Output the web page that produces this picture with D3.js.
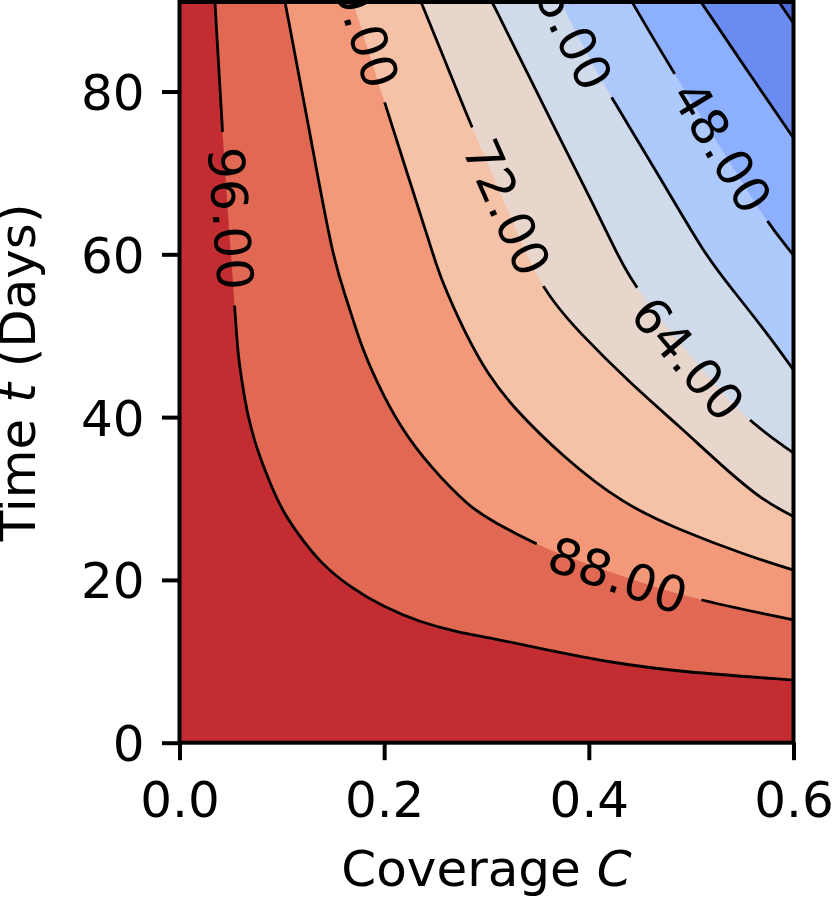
<!DOCTYPE html>
<html>
<head>
<meta charset="utf-8">
<script src="https://cdn.jsdelivr.net/npm/d3@7"></script>
<style>
  body { margin: 0; background: #ffffff; }
  svg { display: block; }
  text { font-family: "DejaVu Sans", sans-serif; }
</style>
</head>
<body>
<svg id="chart" width="832" height="898"></svg>
<script>
// ---------------- data ----------------
const levels = [32, 40, 48, 56, 64, 72, 80, 88, 96];

// contour lines as [Coverage C, Time t] points, from the top edge to the right edge
const line32 = [[0.5858, 91], [0.6, 88.4]];
const line40 = [[0.5096, 91], [0.5546, 82.6], [0.6, 74.3]];
const line48 = [[0.4422, 91], [0.4823, 82.4], [0.5282, 73.3], [0.5722, 64.2], [0.6, 59.9]];
const line56 = [[0.3728, 91], [0.3953, 85.3], [0.4207, 79.5], [0.4695, 69.5], [0.5135, 59.9],
                [0.5409, 55.6], [0.5741, 50.3], [0.6, 45.8]];
const line64 = [[0.3054, 91], [0.3376, 82.9], [0.3689, 74.9], [0.4011, 67.0], [0.4305, 59.3],
                [0.4471, 55.6], [0.4989, 47.6], [0.5507, 39.9], [0.6, 35.6]];
const line72 = [[0.2360, 91], [0.2614, 83.2], [0.2858, 75.5], [0.3200, 65.8], [0.3523, 55.8],
                [0.3914, 50.3], [0.4402, 44.2], [0.4891, 38.8], [0.5301, 34.0], [0.5692, 29.8], [0.6, 27.8]];
const line80 = [[0.1696, 91], [0.1998, 78.9], [0.2252, 68.9], [0.2467, 60.5], [0.2546, 57.2],
                [0.2790, 50.3], [0.3015, 45.2], [0.3259, 41.2], [0.3748, 35.1], [0.4324, 29.4],
                [0.4891, 26.1], [0.5546, 23.0], [0.6, 21.2]];
const line88 = [[0.1031, 91], [0.1275, 74.9], [0.1500, 59.3], [0.1637, 54.4], [0.1764, 49.1],
                [0.1930, 44.2], [0.2155, 38.8], [0.2448, 33.9], [0.2839, 28.9], [0.3034, 27.4],
                [0.3572, 23.7], [0.4295, 20.6], [0.5018, 17.6], [0.6, 15.1]];
const line96 = [[0.0347, 91], [0.0415, 75.2], [0.0542, 53.2], [0.0567, 48.2], [0.0611, 44.2],
                [0.0669, 40.0], [0.0757, 36.0], [0.0884, 31.9], [0.1001, 28.6], [0.1148, 25.8],
                [0.1373, 22.1], [0.1666, 19.1], [0.1989, 16.7], [0.2350, 14.8], [0.2712, 13.6],
                [0.3034, 12.9], [0.3591, 11.4], [0.4236, 9.8], [0.4891, 8.7], [0.6, 7.7]];
const contourLines = [line32, line40, line48, line56, line64, line72, line80, line88, line96];

// inline contour labels: level and where its label sits [C, t]
const labelLevels = [96, 88, 80, 72, 64, 56, 48];
const labelPoints = [[0.0503, 64.4], [0.4285, 20.6], [0.1783, 89.0], [0.3200, 65.8],
                     [0.4970, 47.2], [0.3787, 88.5], [0.5301, 73.2]];

// band colours (coolwarm), from lowest band (<32) to highest (>96)
const bandColors = ['#4f69d9', '#6a8bef', '#8db0fe', '#aec9fc', '#cfdaea',
                    '#e8d6cc', '#f5c1a7', '#f39879', '#e16852', '#c32d31'];

const xTicks = [0, 0.2, 0.4, 0.6];
const yTicks = [0, 20, 40, 60, 80];
const xDomain = [0, 0.6];
const yDomain = [0, 91];
const xLabelText = ["Coverage ", "C"];
const yLabelText = ["Time ", "t", " (Days)"];

// ---------------- layout ----------------
const L = 179.5, R = 793.5, T = 2, B = 742.7;
const FS = 50;
const x = d3.scaleLinear().domain(xDomain).range([L, R]);
const y = d3.scaleLinear().domain(yDomain).range([B, T]);

const svg = d3.select('#chart');
const defs = svg.append('defs');
defs.append('clipPath').attr('id', 'plotclip')
  .append('rect').attr('x', L).attr('y', T).attr('width', R - L).attr('height', B - T);

const plot = svg.append('g').attr('clip-path', 'url(#plotclip)');

// lowest band fills the whole area
plot.append('rect').attr('x', L).attr('y', T).attr('width', R - L).attr('height', B - T)
  .attr('fill', bandColors[0]);

const lineGen = d3.line().x(d => x(d[0])).y(d => y(d[1])).curve(d3.curveBasis);

// filled regions: value > level is the lower-left side of each line
levels.forEach((lv, i) => {
  const pts = contourLines[i];
  const first = pts[0], last = pts[pts.length - 1];
  const d = lineGen(pts) +
    `L${x(last[0]) + 6},${y(last[1])}` +
    `L${x(xDomain[1]) + 6},${y(0) + 6}` +
    `L${x(0) - 6},${y(0) + 6}` +
    `L${x(0) - 6},${y(yDomain[1]) - 6}` +
    `L${x(first[0])},${y(yDomain[1]) - 6}Z`;
  plot.append('path').attr('d', d).attr('fill', bandColors[i + 1]);
});

// label geometry
function labelGeom(lv, pt) {
  const idx = levels.indexOf(lv);
  const pts = contourLines[idx].map(p => [x(p[0]), y(p[1])]);
  const px = x(pt[0]), py = y(pt[1]);
  let best = Infinity, ang = 0;
  for (let k = 0; k < pts.length - 1; k++) {
    const [ax, ay] = pts[k], [bx, by] = pts[k + 1];
    const dx = bx - ax, dy = by - ay;
    let u = ((px - ax) * dx + (py - ay) * dy) / (dx * dx + dy * dy);
    u = Math.max(0, Math.min(1, u));
    const qx = ax + u * dx, qy = ay + u * dy;
    const dist = Math.hypot(px - qx, py - qy);
    if (dist < best) { best = dist; ang = Math.atan2(dy, dx) * 180 / Math.PI; }
  }
  if (ang > 90) ang -= 180;
  if (ang <= -90) ang += 180;
  return { px, py, ang };
}

// masks to break lines under labels
const geoms = labelLevels.map((lv, i) => ({ lv, ...labelGeom(lv, labelPoints[i]) }));
geoms.forEach(g => {
  const m = defs.append('mask').attr('id', 'mask' + g.lv)
    .attr('maskUnits', 'userSpaceOnUse').attr('x', 0).attr('y', 0).attr('width', 832).attr('height', 898);
  m.append('rect').attr('x', 0).attr('y', 0).attr('width', 832).attr('height', 898).attr('fill', 'white');
  m.append('rect').attr('x', g.px - 87).attr('y', g.py - 30).attr('width', 174).attr('height', 60)
    .attr('fill', 'black').attr('transform', `rotate(${g.ang},${g.px},${g.py})`);
});

// contour lines
levels.forEach((lv, i) => {
  const p = plot.append('path').attr('d', lineGen(contourLines[i]))
    .attr('fill', 'none').attr('stroke', '#000').attr('stroke-width', 2.8);
  if (labelLevels.includes(lv)) p.attr('mask', `url(#mask${lv})`);
});

// inline labels
geoms.forEach(g => {
  plot.append('text').attr('x', g.px).attr('y', g.py).attr('dy', '0.36em')
    .attr('text-anchor', 'middle').attr('font-size', FS)
    .attr('transform', `rotate(${g.ang},${g.px},${g.py})`)
    .text(d3.format('.2f')(g.lv));
});

// axes
const xAxis = d3.axisBottom(x).tickValues(xTicks).tickFormat(d3.format('.1f'))
  .tickSize(17.5).tickSizeOuter(0).tickPadding(17.5);
const yAxis = d3.axisLeft(y).tickValues(yTicks).tickFormat(d3.format('d'))
  .tickSize(17.5).tickSizeOuter(0).tickPadding(17.5);

const gx = svg.append('g').attr('transform', `translate(0,${B})`).call(xAxis);
const gy = svg.append('g').attr('transform', `translate(${L},0)`).call(yAxis);
[gx, gy].forEach(g => {
  g.select('.domain').remove();
  g.selectAll('.tick line').attr('stroke', '#000').attr('stroke-width', 4);
  g.selectAll('.tick text').attr('fill', '#000').attr('font-size', FS)
    .attr('font-family', '"DejaVu Sans", sans-serif');
});
gx.selectAll('.tick text').attr('dy', '0.78em');
gy.selectAll('.tick text').attr('dy', '0.36em');

// spines
svg.append('rect').attr('x', L).attr('y', T).attr('width', R - L).attr('height', B - T)
  .attr('fill', 'none').attr('stroke', '#000').attr('stroke-width', 4);

// axis titles
const xl = svg.append('text').attr('x', (L + R) / 2).attr('y', 886)
  .attr('text-anchor', 'middle').attr('font-size', FS);
xl.append('tspan').text(xLabelText[0]);
xl.append('tspan').attr('font-style', 'italic').text(xLabelText[1]);

const yl = svg.append('text').attr('transform', `translate(35,${(T + B) / 2}) rotate(-90)`)
  .attr('text-anchor', 'middle').attr('font-size', FS);
yl.append('tspan').text(yLabelText[0]);
yl.append('tspan').attr('font-style', 'italic').text(yLabelText[1]);
yl.append('tspan').text(yLabelText[2]);
</script>
</body>
</html>
